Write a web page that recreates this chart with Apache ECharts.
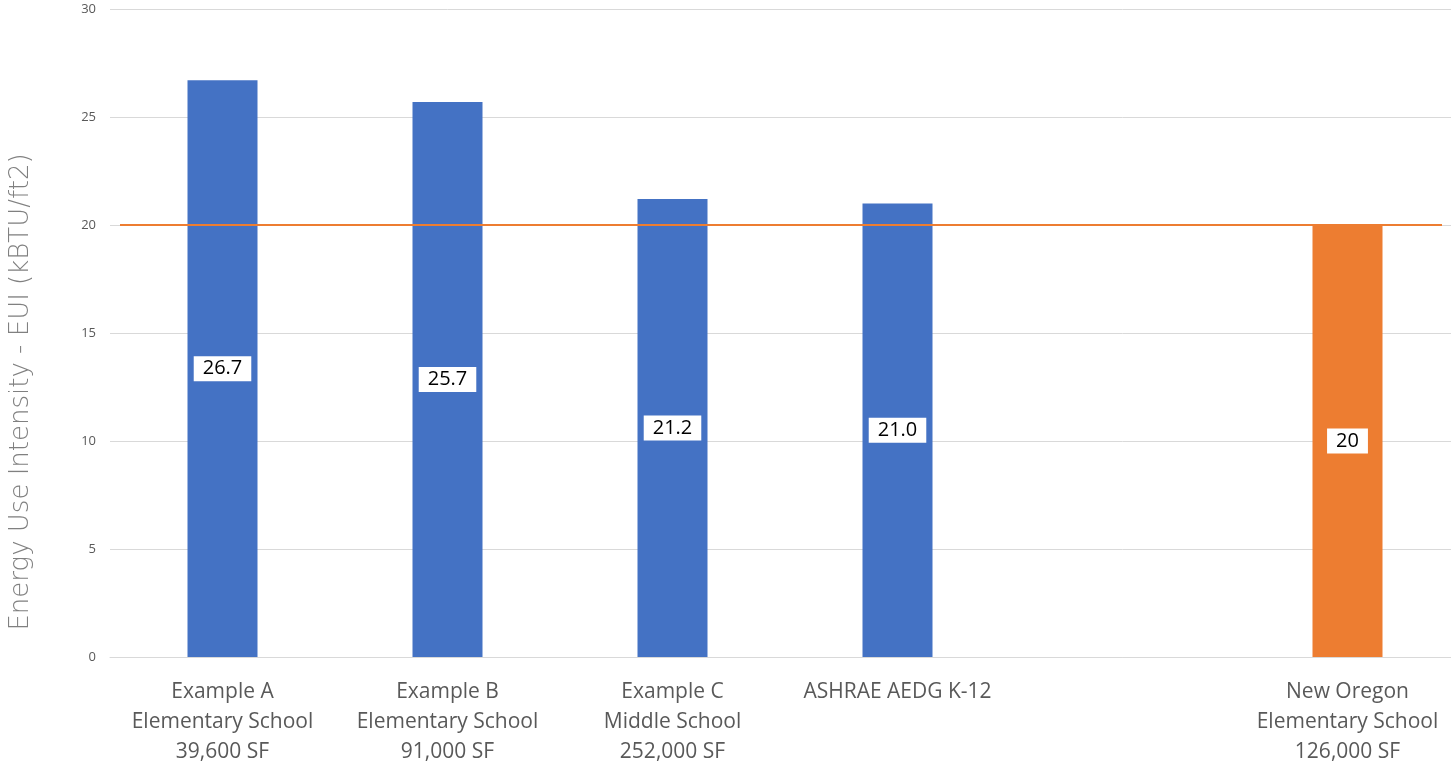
<!DOCTYPE html>
<html>
<head>
<meta charset="utf-8">
<script src="https://cdn.jsdelivr.net/npm/echarts@6/dist/echarts.min.js"></script>
<style>
  html, body { margin: 0; padding: 0; background: #ffffff; overflow: hidden; }
  #chart { width: 1460px; height: 768px; }
</style>
</head>
<body>
<div id="chart"></div>
<script>
// Building categories (an empty slot separates the benchmarks from the new school)
const categories = [
  'Example A\nElementary School\n39,600 SF',
  'Example B\nElementary School\n91,000 SF',
  'Example C\nMiddle School\n252,000 SF',
  'ASHRAE AEDG K-12',
  '',
  'New Oregon\nElementary School\n126,000 SF'
];
// Energy use intensity per building, kBTU/ft2
const euiValues = [26.7, 25.7, 21.2, 21.0, null, 20];
// Text shown in each bar's value box
const euiLabels = ['26.7', '25.7', '21.2', '21.0', '', '20'];
// Bar colours: benchmarks in blue, the new school in orange
const barColors = ['#4472C4', '#4472C4', '#4472C4', '#4472C4', '#4472C4', '#ED7D31'];
// Target EUI reference line
const targetEui = 20;
// Y axis ticks
const yTicks = { min: 0, max: 30, interval: 5 };
const yTitle = 'Energy Use Intensity - EUI (kBTU/ft2)';

const chart = echarts.init(document.getElementById('chart'), null, { renderer: 'canvas' });

const barData = euiValues.map((v, i) => ({
  value: v === null ? '-' : v,
  itemStyle: { color: barColors[i] }
}));

chart.setOption({
  animation: false,
  backgroundColor: '#ffffff',
  grid: { left: 110, top: 9, right: 0, height: 648, containLabel: false },
  graphic: [{
    type: 'text',
    x: 21,
    y: 392,
    rotation: Math.PI / 2,
    style: {
      text: yTitle,
      fill: '#808080',
      font: '200 26px "DejaVu Sans"',
      textAlign: 'center',
      textVerticalAlign: 'middle'
    }
  }],
  xAxis: {
    type: 'category',
    data: categories,
    axisLine: { lineStyle: { color: '#d9d9d9', width: 1 } },
    axisTick: { show: false },
    axisLabel: {
      color: '#595959',
      fontFamily: 'Open Sans',
      fontSize: 21,
      lineHeight: 30,
      margin: 20,
      interval: 0,
      verticalAlign: 'top'
    }
  },
  yAxis: {
    type: 'value',
    min: yTicks.min,
    max: yTicks.max,
    interval: yTicks.interval,
    axisLine: { show: false },
    axisTick: { show: false },
    axisLabel: { color: '#595959', fontFamily: 'Open Sans', fontSize: 13, margin: 14 },
    splitLine: { lineStyle: { color: '#d9d9d9', width: 1 } }
  },
  series: [{
    type: 'bar',
    data: barData,
    barWidth: 70,
    label: {
      show: true,
      position: 'inside',
      formatter: p => euiLabels[p.dataIndex],
      color: '#000000',
      fontFamily: 'Open Sans',
      fontSize: 20,
      backgroundColor: '#ffffff',
      padding: [3, 9, 2, 9]
    },
    markLine: {
      silent: true,
      symbol: ['none', 'none'],
      label: { show: false },
      lineStyle: { color: '#ED7D31', width: 2, type: 'solid' },
      data: [[{ x: 120, yAxis: targetEui }, { x: 1442, yAxis: targetEui }]]
    },
    z: 2
  }]
});
</script>
</body>
</html>
